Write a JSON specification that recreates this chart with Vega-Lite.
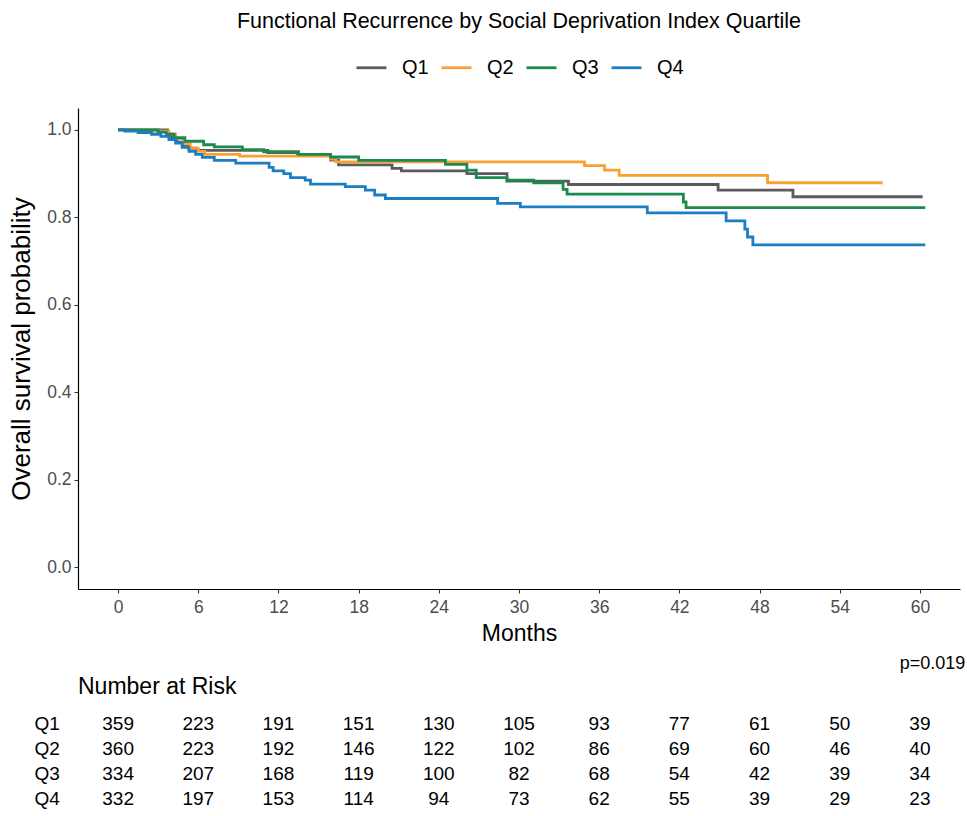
{
  "$schema": "https://vega.github.io/schema/vega-lite/v6.json",
  "padding": {"left": 8, "top": 10, "right": 2, "bottom": 5},
  "background": "white",
  "config": {
    "view": {"stroke": null},
    "font": "Liberation Sans",
    "legend": {"layout": {"top": {"anchor": "middle"}}},
    "axis": {"grid": false, "domainColor": "#000000", "domainWidth": 1.2, "tickColor": "#333333", "tickSize": 4, "tickWidth": 1.1, "labelColor": "#4d4d4d", "labelFontSize": 17.5, "titleFontSize": 23, "titleFontWeight": "normal", "titleColor": "#000000", "labelFont": "Liberation Sans", "titleFont": "Liberation Sans"}
  },
  "datasets": {
    "curves": [
      {"group": "Q1", "month": 0, "surv": 1.0},
      {"group": "Q1", "month": 3.7, "surv": 0.99},
      {"group": "Q1", "month": 4.0, "surv": 0.98},
      {"group": "Q1", "month": 4.4, "surv": 0.972},
      {"group": "Q1", "month": 4.8, "surv": 0.964},
      {"group": "Q1", "month": 5.3, "surv": 0.958},
      {"group": "Q1", "month": 5.8, "surv": 0.953},
      {"group": "Q1", "month": 11.2, "surv": 0.948},
      {"group": "Q1", "month": 13.4, "surv": 0.943},
      {"group": "Q1", "month": 15.9, "surv": 0.931},
      {"group": "Q1", "month": 16.5, "surv": 0.92},
      {"group": "Q1", "month": 20.5, "surv": 0.912},
      {"group": "Q1", "month": 21.2, "surv": 0.906},
      {"group": "Q1", "month": 26.1, "surv": 0.9},
      {"group": "Q1", "month": 29.1, "surv": 0.883},
      {"group": "Q1", "month": 33.7, "surv": 0.875},
      {"group": "Q1", "month": 44.9, "surv": 0.862},
      {"group": "Q1", "month": 50.5, "surv": 0.847},
      {"group": "Q1", "month": 60.2, "surv": 0.847},
      {"group": "Q2", "month": 0, "surv": 1.0},
      {"group": "Q2", "month": 2.5, "surv": 0.997},
      {"group": "Q2", "month": 3.8, "surv": 0.99},
      {"group": "Q2", "month": 4.3, "surv": 0.98},
      {"group": "Q2", "month": 4.9, "surv": 0.968},
      {"group": "Q2", "month": 5.4, "surv": 0.958},
      {"group": "Q2", "month": 6.0, "surv": 0.951},
      {"group": "Q2", "month": 6.5, "surv": 0.944},
      {"group": "Q2", "month": 9.1, "surv": 0.94},
      {"group": "Q2", "month": 15.9, "surv": 0.933},
      {"group": "Q2", "month": 16.3, "surv": 0.927},
      {"group": "Q2", "month": 34.9, "surv": 0.918},
      {"group": "Q2", "month": 36.4, "surv": 0.908},
      {"group": "Q2", "month": 37.5, "surv": 0.896},
      {"group": "Q2", "month": 48.6, "surv": 0.879},
      {"group": "Q2", "month": 57.2, "surv": 0.879},
      {"group": "Q3", "month": 0, "surv": 1.0},
      {"group": "Q3", "month": 3.0, "surv": 0.995},
      {"group": "Q3", "month": 3.6, "surv": 0.99},
      {"group": "Q3", "month": 4.2, "surv": 0.982},
      {"group": "Q3", "month": 5.0, "surv": 0.974},
      {"group": "Q3", "month": 6.4, "surv": 0.966},
      {"group": "Q3", "month": 7.2, "surv": 0.961},
      {"group": "Q3", "month": 9.3, "surv": 0.955},
      {"group": "Q3", "month": 10.9, "surv": 0.95},
      {"group": "Q3", "month": 13.5, "surv": 0.944},
      {"group": "Q3", "month": 15.9, "surv": 0.938},
      {"group": "Q3", "month": 18.0, "surv": 0.93},
      {"group": "Q3", "month": 24.5, "surv": 0.921},
      {"group": "Q3", "month": 26.1, "surv": 0.908},
      {"group": "Q3", "month": 26.8, "surv": 0.891},
      {"group": "Q3", "month": 29.1, "surv": 0.885},
      {"group": "Q3", "month": 31.1, "surv": 0.879},
      {"group": "Q3", "month": 33.3, "surv": 0.864},
      {"group": "Q3", "month": 33.6, "surv": 0.853},
      {"group": "Q3", "month": 42.3, "surv": 0.835},
      {"group": "Q3", "month": 42.5, "surv": 0.822},
      {"group": "Q3", "month": 60.4, "surv": 0.822},
      {"group": "Q4", "month": 0, "surv": 1.0},
      {"group": "Q4", "month": 0.5, "surv": 0.997},
      {"group": "Q4", "month": 1.5, "surv": 0.994},
      {"group": "Q4", "month": 2.5, "surv": 0.99},
      {"group": "Q4", "month": 3.2, "surv": 0.985},
      {"group": "Q4", "month": 3.8, "surv": 0.978},
      {"group": "Q4", "month": 4.3, "surv": 0.97},
      {"group": "Q4", "month": 4.8, "surv": 0.96},
      {"group": "Q4", "month": 5.3, "surv": 0.951},
      {"group": "Q4", "month": 5.8, "surv": 0.944},
      {"group": "Q4", "month": 6.3, "surv": 0.937},
      {"group": "Q4", "month": 7.2, "surv": 0.93},
      {"group": "Q4", "month": 8.8, "surv": 0.924},
      {"group": "Q4", "month": 11.3, "surv": 0.914},
      {"group": "Q4", "month": 11.6, "surv": 0.906},
      {"group": "Q4", "month": 12.4, "surv": 0.9},
      {"group": "Q4", "month": 12.9, "surv": 0.891},
      {"group": "Q4", "month": 14.0, "surv": 0.885},
      {"group": "Q4", "month": 14.4, "surv": 0.876},
      {"group": "Q4", "month": 17.0, "surv": 0.87},
      {"group": "Q4", "month": 18.5, "surv": 0.862},
      {"group": "Q4", "month": 19.2, "surv": 0.851},
      {"group": "Q4", "month": 20.0, "surv": 0.843},
      {"group": "Q4", "month": 28.4, "surv": 0.832},
      {"group": "Q4", "month": 30.1, "surv": 0.824},
      {"group": "Q4", "month": 39.6, "surv": 0.81},
      {"group": "Q4", "month": 45.5, "surv": 0.792},
      {"group": "Q4", "month": 46.9, "surv": 0.773},
      {"group": "Q4", "month": 47.1, "surv": 0.755},
      {"group": "Q4", "month": 47.5, "surv": 0.737},
      {"group": "Q4", "month": 60.4, "surv": 0.737}
    ],
    "risk": [
      {"group": "Q1", "month": 0, "n": 359}, {"group": "Q1", "month": 6, "n": 223}, {"group": "Q1", "month": 12, "n": 191}, {"group": "Q1", "month": 18, "n": 151}, {"group": "Q1", "month": 24, "n": 130}, {"group": "Q1", "month": 30, "n": 105}, {"group": "Q1", "month": 36, "n": 93}, {"group": "Q1", "month": 42, "n": 77}, {"group": "Q1", "month": 48, "n": 61}, {"group": "Q1", "month": 54, "n": 50}, {"group": "Q1", "month": 60, "n": 39},
      {"group": "Q2", "month": 0, "n": 360}, {"group": "Q2", "month": 6, "n": 223}, {"group": "Q2", "month": 12, "n": 192}, {"group": "Q2", "month": 18, "n": 146}, {"group": "Q2", "month": 24, "n": 122}, {"group": "Q2", "month": 30, "n": 102}, {"group": "Q2", "month": 36, "n": 86}, {"group": "Q2", "month": 42, "n": 69}, {"group": "Q2", "month": 48, "n": 60}, {"group": "Q2", "month": 54, "n": 46}, {"group": "Q2", "month": 60, "n": 40},
      {"group": "Q3", "month": 0, "n": 334}, {"group": "Q3", "month": 6, "n": 207}, {"group": "Q3", "month": 12, "n": 168}, {"group": "Q3", "month": 18, "n": 119}, {"group": "Q3", "month": 24, "n": 100}, {"group": "Q3", "month": 30, "n": 82}, {"group": "Q3", "month": 36, "n": 68}, {"group": "Q3", "month": 42, "n": 54}, {"group": "Q3", "month": 48, "n": 42}, {"group": "Q3", "month": 54, "n": 39}, {"group": "Q3", "month": 60, "n": 34},
      {"group": "Q4", "month": 0, "n": 332}, {"group": "Q4", "month": 6, "n": 197}, {"group": "Q4", "month": 12, "n": 153}, {"group": "Q4", "month": 18, "n": 114}, {"group": "Q4", "month": 24, "n": 94}, {"group": "Q4", "month": 30, "n": 73}, {"group": "Q4", "month": 36, "n": 62}, {"group": "Q4", "month": 42, "n": 55}, {"group": "Q4", "month": 48, "n": 39}, {"group": "Q4", "month": 54, "n": 29}, {"group": "Q4", "month": 60, "n": 23}
    ],
    "pval": [{"month": 63.4, "surv": -0.222, "label": "p=0.019"}]
  },
  "bounds": "flush",
  "spacing": 122,
  "resolve": {"scale": {"color": "independent"}, "legend": {"color": "independent"}},
  "vconcat": [
    {
      "width": 882,
      "height": 481,
      "title": {"text": "Functional Recurrence by Social Deprivation Index Quartile", "fontSize": 21.5, "fontWeight": "normal", "anchor": "middle", "offset": 19, "color": "#000000", "font": "Liberation Sans"},
      "layer": [
        {
          "data": {"name": "curves"},
          "mark": {"type": "line", "interpolate": "step-after", "strokeWidth": 2.8},
          "encoding": {
            "x": {"field": "month", "type": "quantitative", "scale": {"domain": [-3, 63], "nice": false, "zero": false}, "axis": {"values": [0, 6, 12, 18, 24, 30, 36, 42, 48, 54, 60], "title": "Months", "titlePadding": 7, "labelPadding": 5}},
            "y": {"field": "surv", "type": "quantitative", "scale": {"domain": [-0.05, 1.05], "nice": false, "zero": false}, "axis": {"values": [0, 0.2, 0.4, 0.6, 0.8, 1.0], "format": ".1f", "title": "Overall survival probability", "titleFontSize": 26, "titlePadding": 12, "labelPadding": 3}},
            "color": {"field": "group", "type": "nominal", "scale": {"domain": ["Q1", "Q2", "Q3", "Q4"], "range": ["#5B5B5B", "#F7A033", "#1B8A4E", "#1C7EC2"]},
              "legend": {"orient": "top", "direction": "horizontal", "title": null, "symbolType": "stroke", "symbolSize": 900, "symbolStrokeWidth": 2.8, "labelFontSize": 20, "labelColor": "#000000", "labelOffset": 14, "columnPadding": 6, "offset": 30, "labelFont": "Liberation Sans"}}
          }
        },
        {
          "data": {"name": "pval"},
          "mark": {"type": "text", "align": "right", "baseline": "middle", "fontSize": 18, "color": "#000000"},
          "encoding": {
            "x": {"field": "month", "type": "quantitative"},
            "y": {"field": "surv", "type": "quantitative"},
            "text": {"field": "label"}
          }
        }
      ]
    },
    {
      "width": 882,
      "height": 100,
      "title": {"text": "Number at Risk", "fontSize": 23, "fontWeight": "normal", "anchor": "start", "frame": "group", "offset": 12, "color": "#000000", "font": "Liberation Sans"},
      "data": {"name": "risk"},
      "mark": {"type": "text", "fontSize": 19, "color": "#000000", "baseline": "middle"},
      "encoding": {
        "x": {"field": "month", "type": "quantitative", "scale": {"domain": [-3, 63], "nice": false, "zero": false}, "axis": null},
        "y": {"field": "group", "type": "nominal", "scale": {"domain": ["Q1", "Q2", "Q3", "Q4"]}, "axis": {"title": null, "domain": false, "ticks": false, "labelAlign": "left", "labelPadding": 44, "labelFontSize": 19, "labelColor": "#000000"}},
        "text": {"field": "n", "type": "quantitative"}
      }
    }
  ]
}
